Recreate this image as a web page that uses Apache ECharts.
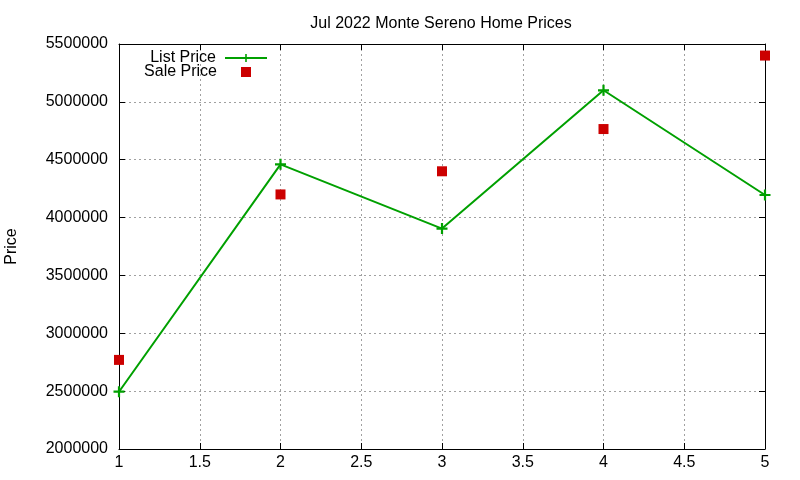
<!DOCTYPE html>
<html>
<head>
<meta charset="utf-8">
<script src="https://cdn.jsdelivr.net/npm/echarts@6/dist/echarts.min.js"></script>
<style>
  html, body { margin: 0; padding: 0; background: #fff; }
  #chart { width: 800px; height: 480px; }
</style>
</head>
<body>
<div id="chart"></div>
<script>
// listing number on the x axis, prices on y
const houses = [1, 2, 3, 4, 5];
const listPrice = [2495000, 4460000, 3905000, 5100000, 4195000];
const salePrice = [2770000, 4200000, 4400000, 4765000, 5400000];

const FONT = '"Liberation Sans", Arial, sans-serif';
const plusPath = 'path://M4,0h2v4h4v2h-4v4h-2v-4h-4v-2h4z';

const chart = echarts.init(document.getElementById('chart'));

function xAxisOf(pos, labels) {
    return {
        type: 'value', position: pos, min: 1, max: 5, interval: 0.5,
        axisLine: { show: true, lineStyle: { color: '#000', width: 1 } },
        axisTick: { show: true, inside: true, length: 6, lineStyle: { color: '#000' } },
        axisLabel: { show: labels, color: '#000', fontFamily: FONT, fontSize: 16, margin: 6 },
        splitLine: { show: labels, lineStyle: { color: '#a0a0a0', type: [2, 3], width: 1 } }
    };
}

function yAxisOf(pos, labels) {
    return {
        type: 'value', position: pos, min: 2000000, max: 5500000, interval: 500000,
        name: labels ? 'Price' : '', nameLocation: 'middle', nameGap: 99, nameRotate: 90,
        nameTextStyle: { color: '#000', fontFamily: FONT, fontSize: 16 },
        axisLine: { show: true, lineStyle: { color: '#000', width: 1 } },
        axisTick: { show: true, inside: true, length: 6, lineStyle: { color: '#000' } },
        axisLabel: {
            show: labels, color: '#000', fontFamily: FONT, fontSize: 16, margin: 11,
            formatter: v => String(v)
        },
        splitLine: { show: labels, lineStyle: { color: '#a0a0a0', type: [2, 3], width: 1 } }
    };
}

const option = {
    animation: false,
    backgroundColor: '#fff',
    title: {
        text: 'Jul 2022 Monte Sereno Home Prices',
        left: 436, top: 11, textAlign: 'center',
        textStyle: { color: '#000', fontFamily: FONT, fontSize: 16, fontWeight: 'normal' }
    },
    legend: [
        {
            data: ['List Price'], align: 'right', orient: 'vertical',
            right: 532, top: 50, padding: 0, itemWidth: 42, itemHeight: 10,
            textStyle: { color: '#000', fontFamily: FONT, fontSize: 16, padding: [0, 4, 0, 0] }
        },
        {
            data: [{ name: 'Sale Price', icon: 'rect' }], align: 'right', orient: 'vertical',
            right: 549, top: 64, padding: 0, itemWidth: 10, itemHeight: 10,
            textStyle: { color: '#000', fontFamily: FONT, fontSize: 16, padding: [0, 19, 0, 0] }
        }
    ],
    grid: { left: 119, right: 35, top: 44, bottom: 31, outerBoundsMode: 'none' },
    xAxis: [xAxisOf('bottom', true), xAxisOf('top', false)],
    yAxis: [yAxisOf('left', true), yAxisOf('right', false)],
    series: [
        {
            name: 'List Price', type: 'line',
            data: houses.map((h, i) => [h, listPrice[i]]),
            symbol: plusPath, symbolSize: 11,
            lineStyle: { color: '#00a000', width: 2 },
            itemStyle: { color: '#00a000' }
        },
        {
            name: 'Sale Price', type: 'scatter',
            data: houses.map((h, i) => [h, salePrice[i]]),
            symbol: 'rect', symbolSize: 10,
            itemStyle: { color: '#cc0000', opacity: 1 }
        }
    ]
};

chart.setOption(option);
</script>
</body>
</html>
